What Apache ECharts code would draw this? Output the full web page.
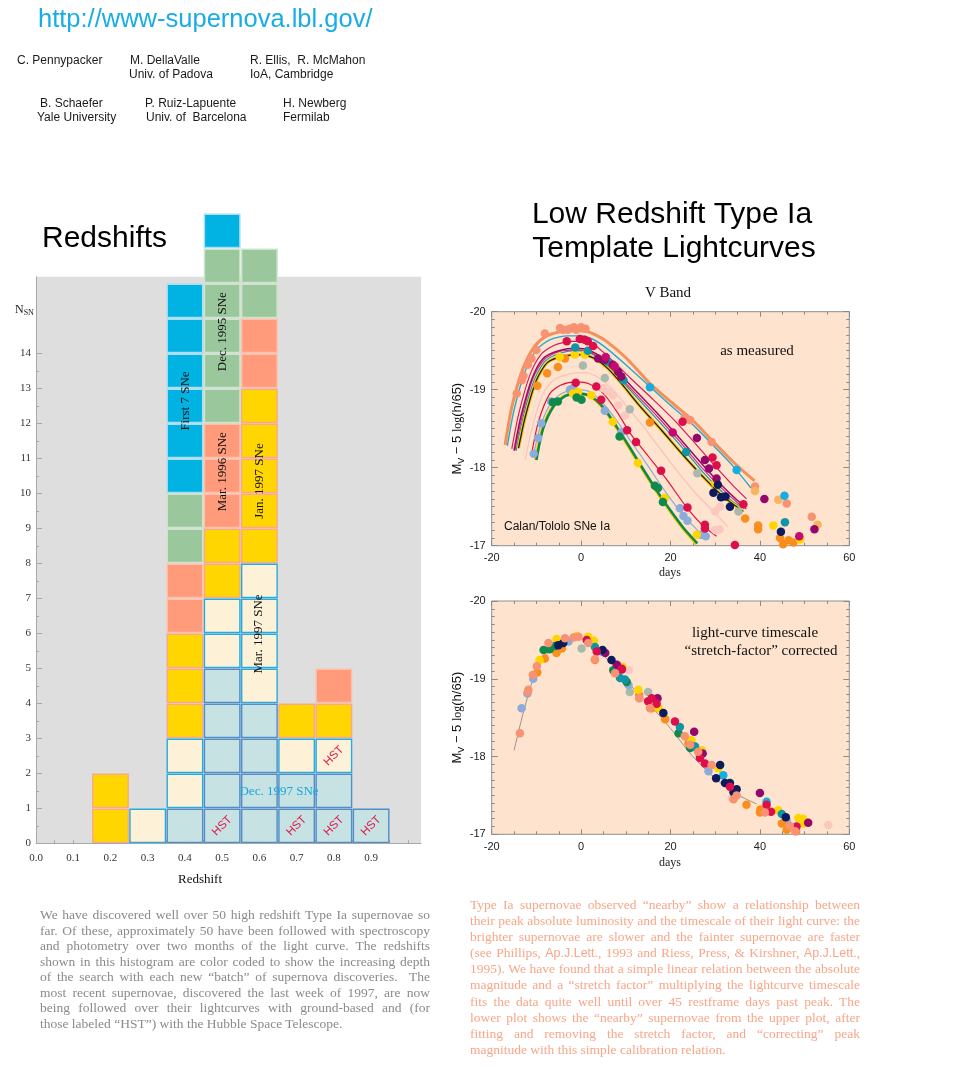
<!DOCTYPE html>
<html><head><meta charset="utf-8">
<script src="https://cdn.jsdelivr.net/npm/echarts@6/dist/echarts.min.js"></script>
<style>
html,body{margin:0;padding:0;background:#fff;}
#wrap{position:relative;width:956px;height:1074px;overflow:hidden;}
#main{position:absolute;left:0;top:0;width:956px;height:1074px;}
.para{position:absolute;width:390px;font-family:"Liberation Serif","Times New Roman",serif;font-size:13.5px;}
.para div{white-space:nowrap;text-align:justify;text-align-last:justify;}
.para div.last{text-align-last:left;}
.sans{font-family:"Liberation Sans",Arial,sans-serif;font-size:12.5px;}
</style></head>
<body>
<div id="wrap">
<div id="main"></div>
<div class="para" id="pLeft" style="left:40px;top:907px;color:#8a8a8a;line-height:15.5px;">
<div>We have discovered well over 50 high redshift Type Ia supernovae so</div>
<div>far. Of these, approximately 50 have been followed with spectroscopy</div>
<div>and photometry over two months of the light curve. The redshifts</div>
<div>shown in this histogram are color coded to show the increasing depth</div>
<div>of the search with each new “batch” of supernova discoveries.&nbsp; The</div>
<div>most recent supernovae, discovered the last week of 1997, are now</div>
<div>being followed over their lightcurves with ground-based and (for</div>
<div class="last">those labeled “HST”) with the Hubble Space Telescope.</div>
</div>
<div class="para" id="pRight" style="left:470px;top:897px;color:#f9a688;line-height:16.1px;">
<div>Type Ia supernovae observed “nearby” show a relationship between</div>
<div>their peak absolute luminosity and the timescale of their light curve: the</div>
<div>brighter supernovae are slower and the fainter supernovae are faster</div>
<div>(see Phillips, <span class="sans">Ap.J.Lett.</span>, 1993 and Riess, Press, &amp; Kirshner, <span class="sans">Ap.J.Lett.</span>,</div>
<div>1995). We have found that a simple linear relation between the absolute</div>
<div>magnitude and a “stretch factor” multiplying the lightcurve timescale</div>
<div>fits the data quite well until over 45 restframe days past peak. The</div>
<div>lower plot shows the “nearby” supernovae from the upper plot, after</div>
<div>fitting and removing the stretch factor, and “correcting” peak</div>
<div class="last">magnitude with this simple calibration relation.</div>
</div>
</div>
<script>
// ---------------- Histogram data ----------------
const redshiftBins   = [0.2, 0.3, 0.4, 0.5, 0.6, 0.7, 0.8, 0.9];
const countsDec1997  = [0, 0, 1, 5, 4, 2, 2, 1];
const countsMar1997  = [0, 1, 2, 2, 4, 1, 1, 0];
const countsJan1997  = [2, 0, 3, 2, 5, 1, 1, 0];
const countsMar1996  = [0, 0, 2, 3, 2, 0, 1, 0];
const countsDec1995  = [0, 0, 2, 5, 2, 0, 0, 0];
const countsFirst7   = [0, 0, 6, 1, 0, 0, 0, 0];
const hstBins        = [0.5, 0.7, 0.8, 0.9, 0.8];
const hstLevels      = [0, 0, 0, 0, 2];
const histYTicks     = [0,1,2,3,4,5,6,7,8,9,10,11,12,13,14];
const histYMinor     = [0.5,1.5,2.5,3.5,4.5,5.5,6.5,7.5,8.5,9.5,10.5,11.5,12.5,13.5];
const histXTicks     = [0,0.1,0.2,0.3,0.4,0.5,0.6,0.7,0.8,0.9];
const histXMinor     = [0,0.05,0.1,0.15,0.2,0.25,0.3,0.35,0.4,0.45,0.5,0.55,0.6,0.65,0.7,0.75,0.8,0.85,0.9,0.95,1.0];
const lcYMajor       = [-20,-19,-18,-17];
const lcYMinor       = [-19.9,-19.8,-19.7,-19.6,-19.5,-19.4,-19.3,-19.2,-19.1,-18.9,-18.8,-18.7,-18.6,-18.5,-18.4,-18.3,-18.2,-18.1,-17.9,-17.8,-17.7,-17.6,-17.5,-17.4,-17.3,-17.2,-17.1];

// ---------------- Top light-curve templates (day, M) ----------------
const curveOrange = [[-17,-18.29],[-15.5,-18.78],[-13,-19.27],[-10.5,-19.55],[-8,-19.68],[-5,-19.74],[-2,-19.76],[1,-19.75],[3,-19.71],[5.7,-19.62],[10.2,-19.40],[15.4,-19.08],[20.6,-18.82],[25.1,-18.6],[29.6,-18.33],[34.1,-18.07],[38.8,-17.83]];
const curveCyan = [[-16.5,-18.28],[-15,-18.74],[-12.5,-19.24],[-10,-19.51],[-7,-19.64],[-3,-19.69],[0,-19.69],[2.5,-19.65],[5.5,-19.54],[10,-19.32],[15,-19.06],[20,-18.8],[25,-18.55],[30,-18.26],[34,-18.02],[38,-17.74]];
const curveCrimson = [[-15.5,-18.24],[-14,-18.68],[-11.5,-19.18],[-9,-19.45],[-6,-19.57],[-2,-19.62],[1,-19.62],[3.5,-19.55],[6.5,-19.4],[11,-19.15],[16,-18.88],[21,-18.6],[26,-18.28],[30,-18.02],[34,-17.77],[37,-17.6]];
const curvePurple = [[-15,-18.22],[-13.5,-18.65],[-11,-19.14],[-8.5,-19.4],[-5,-19.5],[-1,-19.53],[2,-19.5],[5,-19.4],[8,-19.24],[12,-19.0],[17,-18.7],[22,-18.38],[27,-18.05],[31,-17.8],[35,-17.58],[37,-17.5]];
const curveMagenta = [[-14.8,-18.22],[-13.2,-18.66],[-10.8,-19.14],[-8.2,-19.39],[-4.8,-19.49],[-1,-19.51],[2,-19.48],[5,-19.37],[8,-19.2],[12,-18.96],[17,-18.66],[22,-18.34],[27,-18.0],[31,-17.76],[35,-17.55],[37,-17.47]];
const curveTeal = [[-14.5,-18.22],[-13,-18.64],[-10.5,-19.12],[-8,-19.37],[-4.5,-19.47],[-1,-19.5],[2,-19.47],[5,-19.36],[8,-19.18],[12,-18.93],[17,-18.62],[22,-18.3],[27,-17.96],[31,-17.72],[34,-17.56],[36.5,-17.48]];
const curveBlack = [[-14,-18.25],[-12.5,-18.65],[-10,-19.12],[-7.5,-19.35],[-4,-19.43],[0,-19.45],[3,-19.4],[6,-19.27],[9,-19.08],[13,-18.8],[18,-18.48],[23,-18.15],[28,-17.84],[32,-17.62],[36.3,-17.44]];
const curvePink1 = [[-12.5,-18.1],[-11,-18.5],[-8.5,-18.95],[-6,-19.13],[-2,-19.21],[1,-19.22],[4,-19.15],[7,-19.0],[10,-18.8],[14,-18.52],[18,-18.22],[22,-17.92],[26,-17.65],[30,-17.42],[32.8,-17.24]];
const curvePink2 = [[-13,-18.15],[-11.5,-18.58],[-9,-19.05],[-6.5,-19.24],[-2.5,-19.3],[0.5,-19.3],[3.5,-19.22],[6.5,-19.06],[9.5,-18.85],[13.5,-18.56],[17.5,-18.25],[21.5,-17.95],[25.5,-17.67],[29.5,-17.42],[31.5,-17.3]];
const curveRed = [[-11,-18.2],[-9.5,-18.6],[-7,-18.95],[-4.5,-19.06],[-1,-19.1],[2,-19.07],[5,-18.95],[8,-18.72],[11,-18.44],[15,-18.15],[19,-17.86],[23.5,-17.5],[27,-17.27],[30.3,-17.12]];
const curveLightBlue = [[-10.5,-18.2],[-9,-18.55],[-6.5,-18.85],[-4,-18.96],[-1,-19.0],[2,-18.97],[5,-18.82],[8,-18.6],[11,-18.35],[15,-18.02],[19,-17.68],[23,-17.38],[26,-17.2],[28,-17.08]];
const curveYellow = [[-10.2,-18.1],[-8.7,-18.5],[-6.2,-18.8],[-3.7,-18.92],[-1.2,-18.95],[1.8,-18.92],[4.8,-18.77],[7.8,-18.52],[10.8,-18.25],[13.8,-17.97],[16.8,-17.7],[19.8,-17.45],[22.8,-17.22],[25.8,-17.02]];
const curveGreen = [[-10,-18.1],[-8.5,-18.5],[-6,-18.8],[-3.5,-18.92],[-1,-18.95],[2,-18.92],[5,-18.77],[8,-18.52],[11,-18.25],[14,-17.97],[17,-17.7],[20,-17.45],[23,-17.22],[26,-17.03]];

// ---------------- Top measured points ----------------
const topCoral = [[-14.4,-18.95],[-13.3,-19.12],[-12.9,-19.18],[-11.9,-19.32],[-11.1,-19.40],[-10.0,-19.51],[-8.1,-19.72],[-4.7,-19.79],[-4.0,-19.77],[-3.0,-19.77],[-2.5,-19.78],[-1.6,-19.8],[-1.1,-19.77],[0.0,-19.8],[1.0,-19.78],[23.2,-18.65],[24.4,-18.61],[29.2,-18.33],[38.9,-17.76],[46.0,-17.54],[51.6,-17.37]];
const topLightOrange = [[38.9,-17.70],[44.1,-17.59],[52.9,-17.27]];
const topOrange = [[-9.8,-19.05],[-7.6,-19.21],[-5.2,-19.29],[-3.6,-19.4],[15.4,-18.58],[36.7,-17.35],[39.6,-17.26],[39.6,-17.21],[44.5,-17.10],[45.2,-17.02],[46.4,-17.07],[47.5,-17.04]];
const topYellow = [[-4.8,-19.42],[-1.4,-19.45],[0.8,-19.45],[-1.8,-18.95],[-0.7,-18.97],[2.3,-18.93],[7.1,-18.59],[12.7,-18.06],[18.7,-17.61],[25.9,-17.14],[30.0,-17.80],[43.0,-17.26],[49.0,-17.08]];
const topCrimson = [[-3.2,-19.62],[-0.3,-19.65],[0.8,-19.64],[1.5,-19.62],[2.7,-19.56],[-1.2,-19.09],[3.4,-19.04],[4.5,-18.87],[10.3,-18.48],[12.3,-18.33],[17.9,-17.96],[22.7,-18.59],[23.8,-17.49],[27.7,-17.27],[27.7,-17.22],[29.4,-18.13],[30.3,-18.03],[34.4,-17.01],[36.3,-17.53]];
const topMagenta = [[5.5,-19.42],[7.5,-19.3],[20.5,-18.45],[48.8,-17.12]];
const topPurple = [[3.8,-19.40],[5.3,-19.38],[7.1,-19.32],[8.3,-19.23],[9.0,-19.17],[25.9,-18.38],[27.7,-18.10],[28.6,-17.99],[30.3,-17.86],[41.0,-17.60],[52.2,-17.21]];
const topTeal = [[-1.3,-19.54],[1.5,-19.5],[6.0,-19.36],[9.5,-19.12],[23.5,-18.2],[45.6,-17.30]];
const topCyan = [[15.4,-19.03],[34.8,-17.97],[45.5,-17.64]];
const topNavy = [[29.6,-17.68],[30.6,-17.78],[31.3,-17.62],[32.3,-17.63],[33.3,-17.50],[44.7,-17.18]];
const topLightBlue = [[-10.6,-18.18],[-9.6,-18.38],[-8.9,-18.57],[-6.7,-18.85],[-2.5,-19.0],[-1.8,-19.02],[5.3,-18.73],[9.0,-18.45],[22.1,-17.48],[22.9,-17.38],[23.8,-17.32],[26.8,-17.14],[27.9,-17.12]];
const topGrayGreen = [[0.4,-19.31],[5.3,-19.15],[10.9,-18.75],[26.0,-17.93],[35.2,-17.44]];
const topPalePink = [[4.9,-19.02],[6.0,-18.97],[7.1,-18.93],[8.3,-18.80],[9.8,-18.67],[30.0,-17.44],[31.1,-17.50],[30.0,-17.20],[31.0,-17.21]];
const topGreen = [[-6.3,-18.84],[-5.2,-18.85],[-1.0,-18.9],[0.1,-18.87],[8.6,-18.40],[16.5,-17.77],[17.2,-17.74],[18.3,-17.56]];

// ---------------- Bottom (stretch corrected) ----------------
const templateCorrected = [[-15,-18.08],[-13,-18.55],[-11,-18.95],[-9,-19.2],[-7,-19.36],[-5,-19.45],[-3,-19.5],[-1,-19.52],[1,-19.5],[3,-19.42],[5,-19.3],[7,-19.18],[9,-19.05],[11,-18.92],[13,-18.8],[15,-18.68],[17,-18.56],[19,-18.43],[21,-18.29],[23,-18.14],[25,-18.0],[27,-17.88],[29,-17.77],[31,-17.67],[33,-17.58],[35,-17.51],[37,-17.45],[39.3,-17.39]];
const botCoral = [[-13.7,-18.30],[-11.8,-18.86],[-11.9,-18.83],[-10.8,-19.05],[-9.9,-19.16],[-7.3,-19.46],[-3.6,-19.52],[-1.7,-19.53],[-0.6,-19.54],[1.6,-19.46],[3.1,-19.25],[7.6,-19.07],[13.0,-18.75],[15.4,-18.62],[23.2,-18.26],[24.4,-18.15],[26.2,-18.06],[29.2,-17.89],[34.1,-17.45],[34.8,-17.5],[41.1,-17.28],[46.7,-17.11],[47.9,-17.04]];
const botOrange = [[-9.8,-19.08],[-8.1,-19.26],[-5.5,-19.33],[-4.3,-19.39],[3.1,-19.24],[8.0,-19.09],[13.0,-18.79],[15.8,-18.62],[18.8,-18.48],[24.0,-18.17],[37.0,-17.38],[40.0,-17.28],[40.1,-17.32],[44.9,-17.14],[46.0,-17.06],[48.1,-17.04]];
const botYellow = [[-9.3,-19.24],[-5.5,-19.51],[-1.0,-19.55],[1.6,-19.54],[2.9,-19.49],[9.3,-19.15],[12.8,-18.86],[17.3,-18.62],[24.7,-18.21],[27.0,-18.08],[30.7,-17.85],[44.1,-17.31],[48.6,-17.21],[49.7,-17.20],[49.8,-17.14]];
const botGreen = [[-8.4,-19.37],[-7.0,-19.38],[-5.8,-19.42],[7.2,-19.11],[10.2,-18.96],[21.8,-18.30],[24.4,-18.11],[25.1,-18.13]];
const botNavy = [[-5.1,-19.43],[-4.0,-19.46],[4.8,-19.37],[6.8,-19.24],[18.4,-18.56],[31.1,-17.89],[30.2,-17.72],[32.2,-17.66],[33.3,-17.66],[34.1,-17.54],[34.8,-17.58],[45.8,-17.22]];
const botCrimson = [[1.25,-19.5],[3.5,-19.35],[9.1,-19.13],[15.0,-18.71],[15.8,-18.75],[16.9,-18.68],[21.0,-18.45],[26.6,-17.98],[27.7,-17.91],[33.3,-17.61],[41.5,-17.38],[42.5,-17.29],[48.2,-17.10]];
const botPurple = [[5.4,-19.33],[8.0,-19.18],[9.1,-19.12],[17.1,-18.75],[25.3,-18.32],[27.2,-18.04],[40.0,-17.53],[50.8,-17.15]];
const botTeal = [[3.1,-19.41],[8.0,-19.11],[8.7,-19.01],[9.8,-18.99],[22.1,-18.38],[25.5,-18.13],[44.9,-17.26]];
const botCyan = [[4.6,-19.35],[31.8,-17.76],[41.5,-17.42]];
const botLightBlue = [[-13.3,-18.62],[-12.0,-18.81],[-10.7,-19.0],[-2.8,-19.48],[10.6,-18.92],[28.5,-17.81],[46.0,-17.18]];
const botGrayGreen = [[0.1,-19.39],[10.9,-18.83],[15.0,-18.83],[26.5,-18.01]];
const botPalePink = [[10.6,-19.11],[13.2,-18.75],[33.7,-17.46],[55.3,-17.12]];

// ---------------- styling ----------------
const SANS = '"Liberation Sans", Arial, sans-serif';
const SERIF = '"Liberation Serif", "Times New Roman", serif';
const TICK = '#8a8a8a';
const batchStyles = [
  {fill:'#c6e2e2', stroke:'#4f8ec8'},
  {fill:'#fdf2d8', stroke:'#25abe0'},
  {fill:'#ffd600', stroke:'#f9a98a'},
  {fill:'#ff9b7a', stroke:'#ffc0ab'},
  {fill:'#9ac89c', stroke:'#cfe4cf'},
  {fill:'#00b3e3', stroke:'#a8def2'}
];
const C = {
  coral:'#f79272', lorange:'#fbb45e', orange:'#f98e1d', yellow:'#ffd500', crimson:'#dc0f4b',
  magenta:'#c70a6f', purple:'#93086a', teal:'#0f95a6', cyan:'#14aee0', navy:'#0d1a5c',
  lblue:'#8aabdb', ggreen:'#a9b9ab', ppink:'#fac8bf', green:'#11894d'
};

const batchCounts = [countsDec1997, countsMar1997, countsJan1997, countsMar1996, countsDec1995, countsFirst7];
const blocks = [];
redshiftBins.forEach((z, i) => {
  let lvl = 0;
  batchCounts.forEach((c, b) => {
    for (let k = 0; k < c[i]; k++) {
      const hst = hstBins.some((hz, j) => hz === z && hstLevels[j] === lvl) ? 1 : 0;
      blocks.push([z, lvl, b, hst]);
      lvl++;
    }
  });
});

function renderBlock(params, api) {
  const z = api.value(0), lvl = api.value(1), b = api.value(2), hst = api.value(3);
  const p0 = api.coord([z - 0.05, lvl]);
  const p1 = api.coord([z + 0.05, lvl + 1]);
  const x = p0[0] + 0.9, y = p1[1] + 0.9, w = p1[0] - p0[0] - 1.8, h = p0[1] - p1[1] - 1.8;
  const st = batchStyles[b];
  const children = [{type:'rect', shape:{x, y, width:w, height:h}, style:{fill:st.fill, stroke:st.stroke, lineWidth:1.4}}];
  if (hst) {
    children.push({type:'text', x:x + w/2, y:y + h/2, rotation:Math.PI/4,
      style:{text:'HST', fill:'#e3174a', font:'11.5px ' + SANS, align:'center', verticalAlign:'middle'}});
  }
  return {type:'group', children};
}

function lcX(gi, pos, show) {
  return {type:'value', gridIndex:gi, position:pos, min:-20, max:60, interval:20,
    axisLine:{show:false, onZero:false}, splitLine:{show:false},
    axisTick:{show:true, inside:true, length:5, lineStyle:{color:TICK}},
    minorTick:{show:true, splitNumber:4, length:3, lineStyle:{color:TICK}},
    axisLabel:{show:show, fontFamily:SANS, fontSize:11, color:'#222', margin:7}};
}
function lcY(gi, pos, show) {
  const o = {type:'value', gridIndex:gi, position:pos, min:-20, max:-17, inverse:true,
    axisLine:{show:false, onZero:false}, splitLine:{show:false},
    axisTick:{show:true, inside:true, length:6, customValues:lcYMajor, lineStyle:{color:TICK}},
    axisLabel:{show:show, customValues:lcYMajor, fontFamily:SANS, fontSize:11, color:'#222', margin:6}};
  if (show) {
    o.name = '{m|M}{s|V}{m| − 5 }{l|log}{m|(h/65)}';
    o.nameLocation = 'middle';
    o.nameRotate = 90;
    o.nameGap = 24;
    o.nameTextStyle = {rich:{
      m:{fontFamily:SANS, fontSize:13, color:'#111', lineHeight:16, verticalAlign:'middle'},
      s:{fontFamily:SANS, fontSize:9, color:'#111', lineHeight:8, verticalAlign:'bottom'},
      l:{fontFamily:SERIF, fontSize:12, color:'#111', lineHeight:16, verticalAlign:'middle'}
    }};
  }
  return o;
}
function lcYMinorAxis(gi, pos) {
  return {type:'value', gridIndex:gi, position:pos, min:-20, max:-17, inverse:true,
    axisLine:{show:false, onZero:false}, splitLine:{show:false},
    axisTick:{show:true, inside:true, length:3, customValues:lcYMinor, lineStyle:{color:TICK}},
    axisLabel:{show:false}};
}

function line(data, color, width, xi, yi) {
  return {type:'line', xAxisIndex:xi, yAxisIndex:yi, data, smooth:0.25, symbol:'none', showSymbol:false,
    lineStyle:{color, width}, silent:true, z:2};
}
function dots(data, color, xi, yi) {
  return {type:'scatter', xAxisIndex:xi, yAxisIndex:yi, data, symbolSize:8.5, itemStyle:{color, opacity:1}, silent:true, z:3};
}
function txt(text, x, y, font, fill, align, extra) {
  return Object.assign({type:'text', x, y, z:100,
    style:{text, font, fill, align:align || 'left', verticalAlign:'middle'}}, extra || {});
}

const chart = echarts.init(document.getElementById('main'), null, {renderer:'canvas'});
chart.setOption({
  animation:false,
  backgroundColor:'#ffffff',
  grid:[
    {left:36, top:276.7, width:385, height:566.6, show:true, backgroundColor:'#dedede', borderWidth:0},
    {left:491.7, top:311.7, width:357.6, height:234, show:true, backgroundColor:'#fee4cf', borderColor:'#8e8e8e', borderWidth:1},
    {left:491.7, top:601, width:357.6, height:233.3, show:true, backgroundColor:'#fee4cf', borderColor:'#8e8e8e', borderWidth:1}
  ],
  xAxis:[
    {type:'value', gridIndex:0, min:0, max:1.034,
      axisLine:{show:true, onZero:false, lineStyle:{color:'#a8a8a8', width:1}}, splitLine:{show:false},
      axisTick:{show:true, inside:true, length:3, customValues:histXMinor, lineStyle:{color:'#a8a8a8'}},
      axisLabel:{show:true, customValues:histXTicks, formatter:v => v.toFixed(1), fontFamily:SERIF, fontSize:11, color:'#333', margin:9}},
    lcX(1, 'bottom', true), lcX(1, 'top', false),
    lcX(2, 'bottom', true), lcX(2, 'top', false)
  ],
  yAxis:[
    {type:'value', gridIndex:0, position:'left', min:0, max:16.19,
      axisLine:{show:true, onZero:false, lineStyle:{color:'#a8a8a8', width:1}}, splitLine:{show:false},
      axisTick:{show:true, inside:true, length:6, customValues:histYTicks, lineStyle:{color:'#a8a8a8'}},
      axisLabel:{show:true, customValues:histYTicks, fontFamily:SERIF, fontSize:11, color:'#333', margin:5}},
    {type:'value', gridIndex:0, position:'left', min:0, max:16.19,
      axisLine:{show:false, onZero:false}, splitLine:{show:false},
      axisTick:{show:true, inside:true, length:3, customValues:histYMinor, lineStyle:{color:'#a8a8a8'}},
      axisLabel:{show:false}},
    lcY(1, 'left', true), lcY(1, 'right', false),
    lcY(2, 'left', true), lcY(2, 'right', false),
    lcYMinorAxis(1, 'left'), lcYMinorAxis(1, 'right'),
    lcYMinorAxis(2, 'left'), lcYMinorAxis(2, 'right')
  ],
  series:[
    {type:'custom', xAxisIndex:0, yAxisIndex:0, data:blocks, renderItem:renderBlock, clip:false, silent:true, z:2},
    line(curvePink2, '#fcd6cc', 1, 1, 2),
    line(curvePink1, '#f9c3b8', 1.2, 1, 2),
    line(curveOrange, '#f4905a', 3, 1, 2),
    line(curveCyan, '#29a8cc', 1.4, 1, 2),
    line(curveCrimson, '#d81b5a', 1.2, 1, 2),
    line(curveTeal, '#1a98aa', 1.2, 1, 2),
    line(curveMagenta, '#d0307a', 1.2, 1, 2),
    line(curvePurple, '#9c0a64', 1.5, 1, 2),
    line(curveBlack, '#f5c400', 3.2, 1, 2),
    line(curveBlack, '#151515', 1.2, 1, 2),
    line(curveRed, '#e2123e', 1.2, 1, 2),
    line(curveLightBlue, '#8eaad6', 1.2, 1, 2),
    line(curveYellow, '#f7d000', 3, 1, 2),
    line(curveGreen, '#11884a', 2.6, 1, 2),
    dots(topPalePink, C.ppink, 1, 2), dots(topGrayGreen, C.ggreen, 1, 2), dots(topLightBlue, C.lblue, 1, 2),
    dots(topCoral, C.coral, 1, 2), dots(topLightOrange, C.lorange, 1, 2), dots(topOrange, C.orange, 1, 2),
    dots(topYellow, C.yellow, 1, 2), dots(topGreen, C.green, 1, 2), dots(topTeal, C.teal, 1, 2),
    dots(topCyan, C.cyan, 1, 2), dots(topPurple, C.purple, 1, 2), dots(topMagenta, C.magenta, 1, 2),
    dots(topCrimson, C.crimson, 1, 2), dots(topNavy, C.navy, 1, 2),
    line(templateCorrected, '#9a8f86', 1, 3, 4),
    dots(botPalePink, C.ppink, 3, 4), dots(botGrayGreen, C.ggreen, 3, 4), dots(botLightBlue, C.lblue, 3, 4),
    dots(botOrange, C.orange, 3, 4), dots(botYellow, C.yellow, 3, 4), dots(botGreen, C.green, 3, 4),
    dots(botTeal, C.teal, 3, 4), dots(botCyan, C.cyan, 3, 4), dots(botPurple, C.purple, 3, 4),
    dots(botNavy, C.navy, 3, 4), dots(botCrimson, C.crimson, 3, 4), dots(botCoral, C.coral, 3, 4)
  ],
  graphic:[
    txt('http://www-supernova.lbl.gov/', 38, 20, '25.5px ' + SANS, '#17ade6'),
    txt('C. Pennypacker', 17, 60.5, '12px ' + SANS, '#1a1a1a'),
    txt('M. DellaValle', 130, 60.5, '12px ' + SANS, '#1a1a1a'),
    txt('Univ. of Padova', 129, 74.5, '12px ' + SANS, '#1a1a1a'),
    txt('R. Ellis,  R. McMahon', 250, 60.5, '12px ' + SANS, '#1a1a1a'),
    txt('IoA, Cambridge', 250, 74.5, '12px ' + SANS, '#1a1a1a'),
    txt('B. Schaefer', 40, 103.5, '12px ' + SANS, '#1a1a1a'),
    txt('Yale University', 37, 117.5, '12px ' + SANS, '#1a1a1a'),
    txt('P. Ruiz-Lapuente', 145, 103.5, '12px ' + SANS, '#1a1a1a'),
    txt('Univ. of  Barcelona', 146, 117.5, '12px ' + SANS, '#1a1a1a'),
    txt('H. Newberg', 283, 103.5, '12px ' + SANS, '#1a1a1a'),
    txt('Fermilab', 283, 117.5, '12px ' + SANS, '#1a1a1a'),
    txt('Redshifts', 42, 238.5, '30px ' + SANS, '#000'),
    txt('Low Redshift Type Ia', 672, 215, '30px ' + SANS, '#000', 'center'),
    txt('Template Lightcurves', 674, 249, '30px ' + SANS, '#000', 'center'),
    txt('V Band', 668, 293, '15px ' + SERIF, '#111', 'center'),
    txt('as measured', 757, 351, '15px ' + SERIF, '#111', 'center'),
    txt('Calan/Tololo SNe Ia', 504, 527, '12px ' + SANS, '#111'),
    txt('days', 670, 573, '12px ' + SERIF, '#222', 'center'),
    txt('light-curve timescale', 755, 633, '15px ' + SERIF, '#111', 'center'),
    txt('“stretch-factor” corrected', 761, 651.5, '15px ' + SERIF, '#111', 'center'),
    txt('days', 670, 863, '12px ' + SERIF, '#222', 'center'),
    txt('Redshift', 200, 880, '13px ' + SERIF, '#111', 'center'),
    {type:'text', x:15, y:310, z:100, style:{text:'{n|N}{s|SN}', verticalAlign:'middle',
      rich:{n:{fontFamily:SERIF, fontSize:12, fill:'#222', lineHeight:14, verticalAlign:'middle'},
            s:{fontFamily:SERIF, fontSize:8, fill:'#222', lineHeight:6, verticalAlign:'bottom'}}}},
    txt('First 7 SNe', 185.6, 401, '13px ' + SERIF, '#111', 'center', {rotation:Math.PI/2}),
    txt('Dec. 1995 SNe', 222.8, 331.7, '13px ' + SERIF, '#111', 'center', {rotation:Math.PI/2}),
    txt('Mar. 1996 SNe', 222.8, 471.7, '13px ' + SERIF, '#111', 'center', {rotation:Math.PI/2}),
    txt('Jan. 1997 SNe', 260, 481, '13px ' + SERIF, '#111', 'center', {rotation:Math.PI/2}),
    txt('Mar. 1997 SNe', 258.5, 634, '13px ' + SERIF, '#111', 'center', {rotation:Math.PI/2}),
    txt('Dec. 1997 SNe', 279, 792, '13px ' + SERIF, '#1aa6dc', 'center')
  ]
});
</script>
</body></html>
